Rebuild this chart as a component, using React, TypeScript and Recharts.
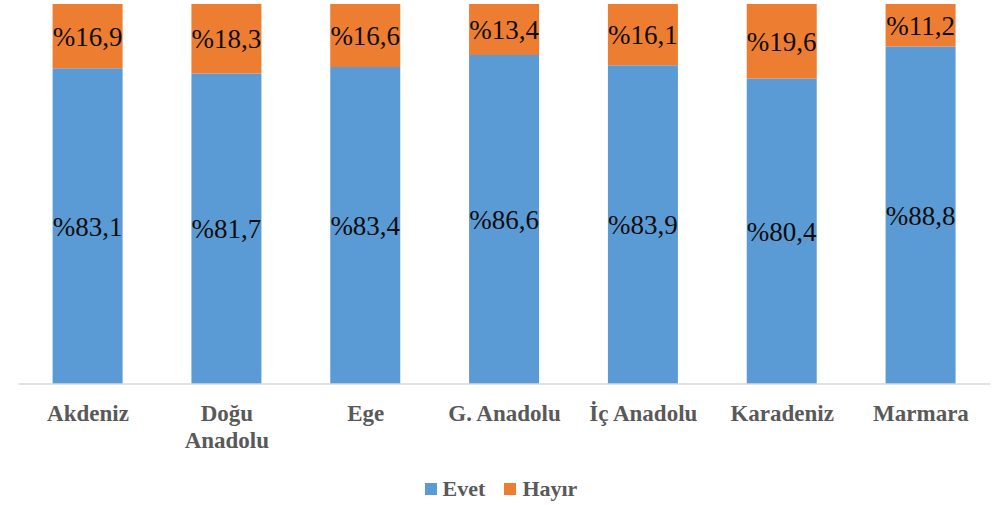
import * as React from 'react';
import { Bar, BarChart, LabelList, Legend, XAxis, YAxis } from 'recharts';

const regions = ['Akdeniz', 'Doğu\nAnadolu', 'Ege', 'G. Anadolu', 'İç Anadolu', 'Karadeniz', 'Marmara'];
const evet = [83.1, 81.7, 83.4, 86.6, 83.9, 80.4, 88.8];
const hayir = [16.9, 18.3, 16.6, 13.4, 16.1, 19.6, 11.2];

const seriesNames = ['Evet', 'Hayır'];
const seriesColors = ['#5B9BD5', '#ED7D31'];

const data = regions.map((region, i) => ({ region, evet: evet[i], hayir: hayir[i] }));

const serif = '"Liberation Serif", serif';

// Turkish style percent: %83,1
const pct = (v: any) => `%${Number(v).toFixed(1).replace('.', ',')}`;

function RegionTick(props: any) {
  const { x, y, payload } = props;
  const lines = String(payload.value).split('\n');
  return (
    <text
      x={x}
      y={y}
      textAnchor="middle"
      style={{ fontFamily: serif, fontWeight: 'bold', fontSize: 23 }}
      fill="#595959"
    >
      {lines.map((line, i) => (
        <tspan key={i} x={x} dy={i === 0 ? 29 : 27}>
          {line}
        </tspan>
      ))}
    </text>
  );
}

function LegendBox() {
  return (
    <div
      style={{
        display: 'flex',
        justifyContent: 'center',
        alignItems: 'center',
        gap: 19,
        fontFamily: serif,
        fontWeight: 'bold',
        fontSize: 22,
        color: '#595959',
      }}
    >
      {seriesNames.map((name, i) => (
        <span key={name} style={{ display: 'flex', alignItems: 'center', gap: 6 }}>
          <span style={{ width: 12, height: 12, background: seriesColors[i], display: 'inline-block' }} />
          {name}
        </span>
      ))}
    </div>
  );
}

export default function App() {
  return (
    <div style={{ width: 1002, height: 505, background: '#fff' }}>
      <style>{'body{margin:0}'}</style>
      <BarChart
        width={1002}
        height={505}
        data={data}
        margin={{ top: 4, right: 11.6, left: 18.6, bottom: 61 }}
        barSize={70}
      >
        <XAxis
          dataKey="region"
          height={60}
          axisLine={{ stroke: '#d9d9d9', strokeWidth: 1.5 }}
          tickLine={false}
          interval={0}
          tick={<RegionTick />}
        />
        <YAxis hide domain={[0, 100]} />
        <Legend
          verticalAlign="middle"
          align="center"
          layout="horizontal"
          wrapperStyle={{ top: 476, left: 0, width: 1002 }}
          content={() => <LegendBox />}
        />
        <Bar dataKey="evet" name="Evet" stackId="a" fill={seriesColors[0]} isAnimationActive={false}>
          <LabelList dataKey="evet" position="center" formatter={pct} fill="#0d0d0d" style={{ fontSize: 27, fontFamily: serif }} />
        </Bar>
        <Bar dataKey="hayir" name="Hayır" stackId="a" fill={seriesColors[1]} isAnimationActive={false}>
          <LabelList dataKey="hayir" position="center" formatter={pct} fill="#0d0d0d" style={{ fontSize: 27, fontFamily: serif }} />
        </Bar>
      </BarChart>
    </div>
  );
}
